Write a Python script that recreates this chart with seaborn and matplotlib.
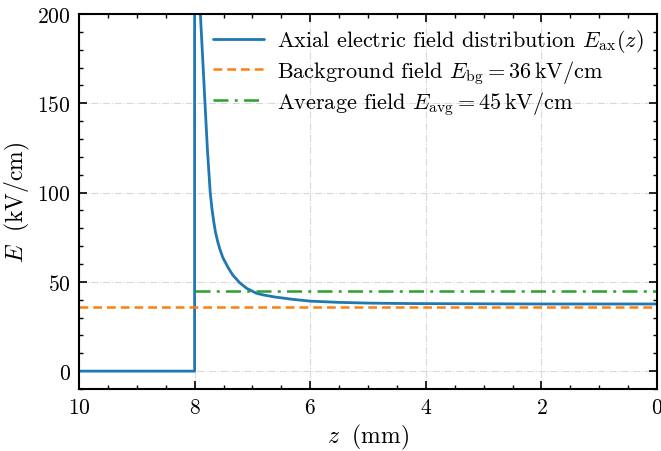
import numpy as np
import pandas as pd
import matplotlib
matplotlib.use("Agg")
import matplotlib.pyplot as plt
import seaborn as sns
from matplotlib.ticker import MultipleLocator

# Data
z_ax = [10.0, 8.0, 8.0, 7.97, 7.95, 7.93, 7.90, 7.86, 7.82, 7.78, 7.73, 7.70, 7.67,
        7.64, 7.60, 7.56, 7.51, 7.42, 7.34, 7.22, 7.10, 6.93, 6.80, 6.61, 6.30, 6.0,
        5.5, 5.0, 4.5, 4.0, 3.0, 2.0, 1.0, 0.0]
E_ax = [0.0, 0.0, 1000.0, 320.0, 260.0, 225.0, 200.0, 175.0, 150.0, 125.0, 100.0, 91.0, 84.0,
        78.0, 72.5, 68.0, 63.5, 58.0, 53.8, 49.5, 46.4, 43.6, 42.6, 41.5, 40.2, 39.2,
        38.5, 38.1, 37.9, 37.8, 37.7, 37.6, 37.6, 37.6]
z_bg = [10.0, 0.0]
E_bg = [36.0, 36.0]
z_avg = [8.0, 0.0]
E_avg = [45.0, 45.0]

labels = [r"Axial electric field distribution $E_{\rm ax}(z)$",
          r"Background field $E_{\rm bg} = 36\,{\rm kV/cm}$",
          r"Average field $E_{\rm avg} = 45\,{\rm kV/cm}$"]

sns.set_style("ticks")
plt.rcParams.update({
    "font.family": "serif",
    "font.serif": ["cmr10", "DejaVu Serif"],
    "mathtext.fontset": "cm",
    "axes.formatter.use_mathtext": True,
    "xtick.direction": "in",
    "ytick.direction": "in",
    "xtick.top": True,
    "ytick.right": True,
    "xtick.minor.visible": True,
    "ytick.minor.visible": True,
    "axes.unicode_minus": False,
    "axes.edgecolor": "black",
    "xtick.color": "black",
    "ytick.color": "black",
    "text.color": "black",
    "axes.labelcolor": "black",
})

fig = plt.figure(figsize=(6.61, 4.52), dpi=100)
ax = fig.add_axes([0.1195, 0.1372, 0.8745, 0.8296])

c_blue, c_orange, c_green = "#1f77b4", "#ff7f0e", "#2ca02c"

sns.lineplot(x=z_ax, y=E_ax, sort=False, estimator=None, ax=ax, color=c_blue,
             linewidth=2.0, label=labels[0])
sns.lineplot(x=z_bg, y=E_bg, sort=False, estimator=None, ax=ax, color=c_orange,
             linewidth=1.8, linestyle=(0, (3.5, 2)), label=labels[1])
sns.lineplot(x=z_avg, y=E_avg, sort=False, estimator=None, ax=ax, color=c_green,
             linewidth=1.8, linestyle=(0, (6, 2.5, 1.2, 2.5)), label=labels[2])

ax.set_xlim(10, 0)
ax.set_ylim(-10, 200)
ax.xaxis.set_major_locator(MultipleLocator(2))
ax.xaxis.set_minor_locator(MultipleLocator(0.5))
ax.yaxis.set_major_locator(MultipleLocator(50))
ax.yaxis.set_minor_locator(MultipleLocator(10))
ax.tick_params(which="major", length=6, width=1.2, labelsize=15.5, pad=6)
ax.tick_params(which="minor", length=3, width=1.0)
for s in ax.spines.values():
    s.set_linewidth(1.5)
    s.set_color("black")
ax.grid(True, which="major", color="#d9d9d9", linestyle="-.", linewidth=0.8)

ax.set_xlabel(r"$z\ \ ({\rm mm})$", fontsize=17)
ax.set_ylabel(r"$E\ \ ({\rm kV/cm})$", fontsize=17)

ax.legend(loc="upper right", frameon=False, fontsize=16, handlelength=2.3,
          handletextpad=0.6, borderaxespad=0.2, labelspacing=0.15)

fig.savefig("out.png", dpi=100)
